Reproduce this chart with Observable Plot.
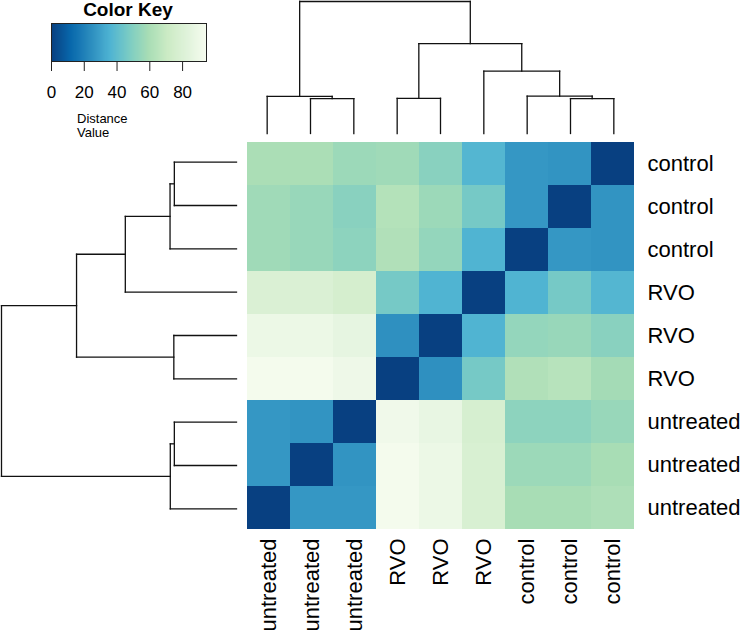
<!DOCTYPE html>
<html><head><meta charset="utf-8">
<script src="https://cdn.jsdelivr.net/npm/d3@7"></script>
<script src="https://cdn.jsdelivr.net/npm/@observablehq/plot@0.6"></script>
<style>
body{margin:0;background:#fff;font-family:"Liberation Sans",Arial,sans-serif}
#wrap{position:relative;width:740px;height:631px;overflow:hidden;background:#fff}
#wrap > *{position:absolute;left:0;top:0}
.keytitle{width:256px;text-align:center;font-weight:bold;font-size:19px;line-height:19px;color:#000}
.keylabel{font-size:13px;line-height:14px;color:#000}
</style></head><body><div id="wrap"></div>
<script>
// Samples in column order (left to right)
const samples = ["u1","u2","u3","R4","R5","R6","c7","c8","c9"];
const groups = ["untreated","untreated","untreated","RVO","RVO","RVO","control","control","control"];
// Row order (top to bottom)
const rowOrder = ["c9","c8","c7","R6","R5","R4","u3","u2","u1"];
// Distance values: rows top->bottom, columns left->right
const rowC9 = [60,60,56,57,51,37,27,26,0];
const rowC8 = [57,55,51,63,56,46,27,0,26];
const rowC7 = [57,55,52,62,54,36,0,27,26];
const rowR6 = [79,79,76,46,36,0,36,46,37];
const rowR5 = [89,89,86,25,0,36,54,55,51];
const rowR4 = [93,93,90,0,25,46,62,64,58];
const rowU3 = [27,26,0,91,87,77,52,52,55];
const rowU2 = [27,0,26,93,89,78,56,56,59];
const rowU1 = [0,27,27,93,89,78,59,59,61];
const distances = [rowC9,rowC8,rowC7,rowR6,rowR5,rowR4,rowU3,rowU2,rowU1];
// Hierarchical clustering merges (hclust style: negative = leaf index in column order, positive = earlier merge), with height
const merges = [
  [-2,-3,24.6],
  [-1, 1,26.2],
  [-8,-9,24.6],
  [-7, 3,26.3],
  [-4,-5,24.8],
  [-6, 4,44.0],
  [ 5, 6,63.3],
  [ 2, 7,93.0]
];
const keyTicks = [0,20,40,60,80];
const keyMax = 94.6;
const gnbu = ["#f7fcf0","#e0f3db","#ccebc5","#a8ddb5","#7bccc4","#4eb3d3","#2b8cbe","#0868ac","#084081"];

const font = '"Liberation Sans", Arial, Helvetica, sans-serif';
const colorOpts = {
  type: "linear",
  domain: gnbu.map((_, i) => i * keyMax / (gnbu.length - 1)),
  range: gnbu.slice().reverse(),
  interpolate: "rgb"
};
const groupOf = d => groups[samples.indexOf(d)];

const cells = rowOrder.flatMap((r, i) => samples.map((c, j) => ({row: r, col: c, value: distances[i][j]})));

function dendroSegments(ms) {
  const pos = [], hgt = [], segs = [];
  const get = k => k < 0 ? {p: -k, h: 0} : {p: pos[k - 1], h: hgt[k - 1]};
  ms.forEach(([a, b, h]) => {
    const A = get(a), B = get(b);
    segs.push({p1: A.p, h1: A.h, p2: A.p, h2: h});
    segs.push({p1: B.p, h1: B.h, p2: B.p, h2: h});
    segs.push({p1: A.p, h1: h, p2: B.p, h2: h});
    pos.push((A.p + B.p) / 2); hgt.push(h);
  });
  return segs;
}
const segs = dendroSegments(merges);
const rootH = merges[merges.length - 1][2];

const wrap = document.getElementById("wrap");

const heatPlot = Plot.plot({
  width: 740, height: 631,
  marginLeft: 245, marginRight: 105, marginTop: 140, marginBottom: 101,
  x: {domain: samples, padding: 0, axis: null},
  y: {domain: rowOrder, padding: 0, axis: null},
  color: colorOpts,
  style: {fontFamily: font, background: "transparent"},
  marks: [
    Plot.cell(cells, {x: "col", y: "row", fill: "value", inset: 0}),
    Plot.text(rowOrder, {y: d => d, frameAnchor: "right", dx: 12, textAnchor: "start", text: groupOf, fontSize: 22, fill: "#000"}),
    Plot.text(samples, {x: d => d, frameAnchor: "bottom", dy: 8, rotate: -90, textAnchor: "end", lineAnchor: "middle", text: groupOf, fontSize: 22, fill: "#000"})
  ]
});
wrap.appendChild(heatPlot);

const topDendro = Plot.plot({
  width: 740, height: 140,
  marginLeft: 245, marginRight: 105, marginTop: 1, marginBottom: 7,
  x: {domain: [0.5, 9.5], axis: null},
  y: {domain: [0, rootH], axis: null},
  style: {background: "transparent"},
  marks: [
    Plot.link(segs, {x1: "p1", y1: "h1", x2: "p2", y2: "h2", stroke: "#111", strokeWidth: 1.3, strokeLinecap: "square"})
  ]
});
wrap.appendChild(topDendro);

const leftDendro = Plot.plot({
  width: 245, height: 631,
  marginLeft: 1, marginRight: 9, marginTop: 140, marginBottom: 101,
  x: {domain: [rootH, 0], axis: null},
  y: {domain: [0.5, 9.5], axis: null},
  style: {background: "transparent"},
  marks: [
    Plot.link(segs, {x1: "h1", y1: "p1", x2: "h2", y2: "p2", stroke: "#111", strokeWidth: 1.3, strokeLinecap: "square"})
  ]
});
wrap.appendChild(leftDendro);

const keyPlot = Plot.plot({
  width: 230, height: 140,
  marginLeft: 51, marginRight: 24, marginTop: 23, marginBottom: 79,
  x: {domain: [0, keyMax]},
  y: {domain: [0, 1], axis: null},
  color: colorOpts,
  style: {fontFamily: font, background: "transparent"},
  marks: [
    Plot.raster({x1: 0, x2: keyMax, y1: 0, y2: 1, width: 300, height: 1, fill: (x, y) => x, imageRendering: "auto"}),
    Plot.frame({stroke: "#222", strokeWidth: 1}),
    Plot.axisX({ticks: keyTicks, tickSize: 10, tickPadding: 14, fontSize: 17, label: null, stroke: "#222", fill: "#000"})
  ]
});
wrap.appendChild(keyPlot);

const keyTitle = document.createElement("div");
keyTitle.className = "keytitle";
keyTitle.textContent = "Color Key";
keyTitle.style.top = "0px";
wrap.appendChild(keyTitle);

const keyLab = document.createElement("div");
keyLab.className = "keylabel";
keyLab.innerHTML = "Distance<br>Value";
keyLab.style.left = "77px";
keyLab.style.top = "112px";
wrap.appendChild(keyLab);
</script></body></html>
